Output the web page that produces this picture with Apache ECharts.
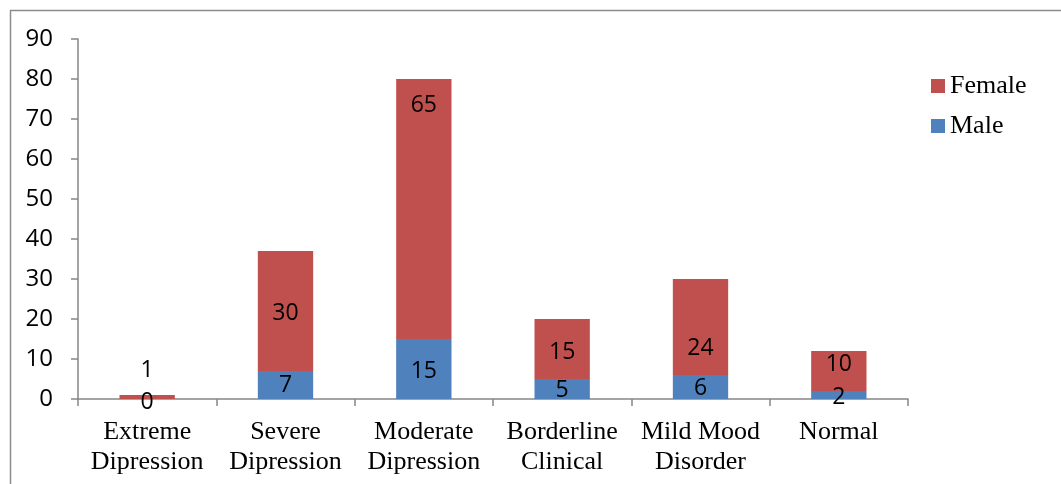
<!DOCTYPE html>
<html><head><meta charset="utf-8">
<script src="https://cdn.jsdelivr.net/npm/echarts@6/dist/echarts.min.js"></script>
<style>html,body{margin:0;padding:0;background:#fff}#c{width:1061px;height:484px}</style>
</head><body><div id="c"></div>
<script>
const categories = ['Extreme\nDipression','Severe\nDipression','Moderate\nDipression','Borderline\nClinical','Mild Mood\nDisorder','Normal'];
const maleValues = [0, 7, 15, 5, 6, 2];
const femaleValues = [1, 30, 65, 15, 24, 10];
const yTicks = {min: 0, max: 90, interval: 10};

// label placement tweaks (style only, by category index)
const femaleLabelOffsets = [[0, -8], [0, 2], [0, -104], [0, 3], [0, 21], [0, -7]];
const maleLabelOffsets = [[0, 3], [0, 0], [0, 2], [0, 1], [0, 1], [0, 2]];

const chart = echarts.init(document.getElementById('c'));
const labelStyle = {show: true, position: 'inside', color: '#000', fontFamily: 'Open Sans', fontSize: 23};
const femaleData = femaleValues.map((v, i) => ({value: v, label: {position: v <= 2 ? 'top' : 'inside', offset: femaleLabelOffsets[i]}}));
const maleData = maleValues.map((v, i) => ({value: v, label: {offset: maleLabelOffsets[i]}}));
chart.setOption({
  animation: false,
  graphic: [{type: 'rect', shape: {x: 10.5, y: 10.5, width: 1200, height: 600}, style: {fill: 'none', stroke: '#8c8c8c', lineWidth: 1.5}}],
  grid: {left: 78, right: 153, top: 39, bottom: 85},
  legend: {
    data: ['Female', 'Male'], orient: 'vertical', left: 926, top: 68, itemGap: 14,
    itemWidth: 14, itemHeight: 14, icon: 'rect',
    textStyle: {fontFamily: 'Liberation Serif', fontSize: 26, color: '#000'}
  },
  xAxis: {
    type: 'category', data: categories,
    axisLine: {lineStyle: {color: '#868686', width: 1.5}},
    axisTick: {show: true, length: 7, lineStyle: {color: '#868686', width: 1.5}},
    axisLabel: {interval: 0, fontFamily: 'Liberation Serif', fontSize: 26, color: '#000', lineHeight: 30, margin: 18}
  },
  yAxis: {
    type: 'value', min: yTicks.min, max: yTicks.max, interval: yTicks.interval,
    splitLine: {show: false},
    axisLine: {show: true, lineStyle: {color: '#868686', width: 1.5}},
    axisTick: {show: true, length: 7, lineStyle: {color: '#868686', width: 1.5}},
    axisLabel: {fontFamily: 'Open Sans', fontSize: 24, color: '#000', margin: 25}
  },
  series: [
    {name: 'Male', type: 'bar', stack: 's', data: maleData, barWidth: '40%', itemStyle: {color: '#4F81BD'}, label: labelStyle},
    {name: 'Female', type: 'bar', stack: 's', data: femaleData, barWidth: '40%', itemStyle: {color: '#C0504D'}, label: labelStyle}
  ]
});
</script></body></html>
